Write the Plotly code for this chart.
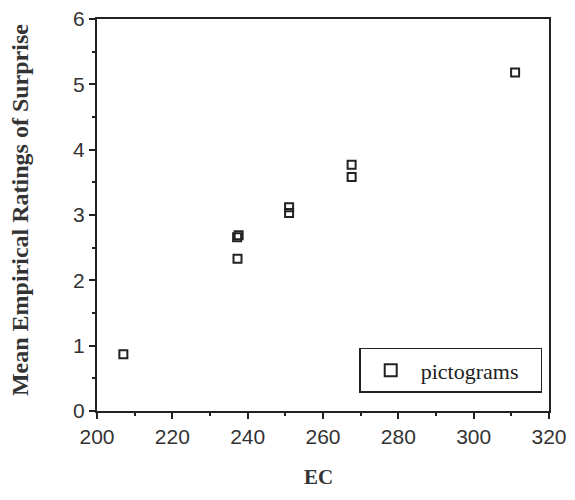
import plotly.graph_objects as go

# Data
ec_values = [207.0, 237.2, 237.6, 237.3, 251.0, 251.0, 267.6, 267.6, 311.0]
surprise_ratings = [0.87, 2.66, 2.69, 2.33, 3.12, 3.03, 3.77, 3.58, 5.18]
series_name = "pictograms"
x_ticks = [200, 220, 240, 260, 280, 300, 320]
y_ticks = [0, 1, 2, 3, 4, 5, 6]

fig = go.Figure()
fig.add_trace(go.Scatter(
    x=ec_values, y=surprise_ratings, mode="markers",
    name=series_name + "\u00a0\u00a0\u00a0",
    marker=dict(symbol="square-open", size=8, color="#222",
                line=dict(width=2, color="#222")),
    showlegend=True,
))

tickfont = dict(family="Liberation Sans, Arial", size=21, color="#333")
fig.update_layout(
    width=559, height=484,
    margin=dict(l=89, r=18, t=11, b=81),
    paper_bgcolor="white", plot_bgcolor="white",
    showlegend=True,
    legend=dict(
        x=0.985, y=0.161, xanchor="right", yanchor="top",
        bgcolor="white", bordercolor="#222", borderwidth=1.5,
        font=dict(family="Liberation Serif, Times New Roman", size=22, color="#222"),
        itemwidth=50, itemsizing="constant",
    ),
    xaxis=dict(
        range=[200, 320], tickvals=x_ticks, ticks="outside", ticklen=6, tickwidth=2,
        tickcolor="#222", showline=True, linecolor="#222", linewidth=2, mirror=True,
        showgrid=False, zeroline=False, tickfont=tickfont, automargin=False,
        ticklabeloverflow="allow",
        minor=dict(dtick=10, ticks="outside", ticklen=3, tickwidth=1.5, tickcolor="#222", showgrid=False),
    ),
    yaxis=dict(
        range=[0, 6], tickvals=y_ticks, ticks="outside", ticklen=6, tickwidth=2,
        tickcolor="#222", showline=True, linecolor="#222", linewidth=2, mirror=True,
        showgrid=False, zeroline=False, tickfont=tickfont, automargin=False,
        ticklabeloverflow="allow",
        minor=dict(dtick=0.5, ticks="outside", ticklen=3, tickwidth=1.5, tickcolor="#222", showgrid=False),
    ),
    annotations=[
        dict(text="<b>Mean Empirical Ratings of Surprise</b>", xref="paper", yref="paper",
             x=-0.170, y=0.513, textangle=-90, showarrow=False, xanchor="center", yanchor="middle",
             font=dict(family="Liberation Serif, Times New Roman", size=24, color="#333")),
        dict(text="<b>EC</b>", xref="paper", yref="paper",
             x=0.489, y=-0.168, showarrow=False, xanchor="center", yanchor="middle",
             font=dict(family="Liberation Serif, Times New Roman", size=21, color="#333")),
    ],
)

fig.write_html("out.html")
